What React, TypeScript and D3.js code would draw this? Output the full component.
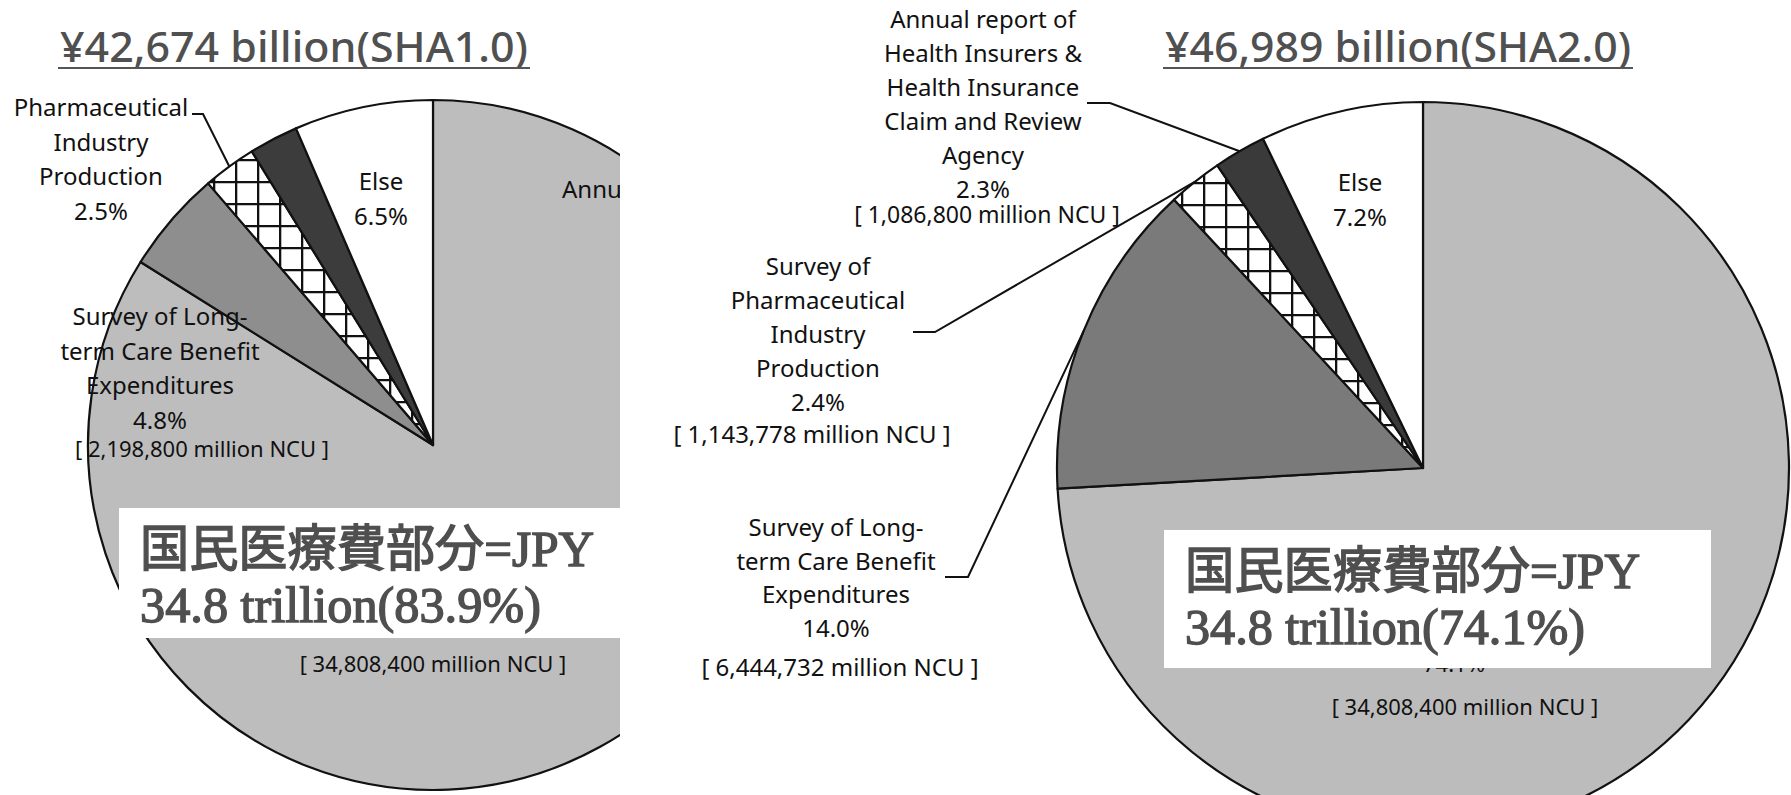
import * as d3 from 'd3';
import { useEffect, useRef } from 'react';

const WIDTH = 1791;
const HEIGHT = 795;

// slices clockwise from 12 o'clock
const sliceKeys = ['nmce', 'ltc', 'pharma', 'insurers', 'else'];
const sha1Shares = [83.9, 4.8, 2.5, 2.3, 6.5];
const sha2Shares = [74.1, 14.0, 2.4, 2.3, 7.2];

const titles = ['¥42,674 billion(SHA1.0)', '¥46,989 billion(SHA2.0)'];
const boxLines1 = ['国民医療費部分=JPY', '34.8 trillion(83.9%)'];
const boxLines2 = ['国民医療費部分=JPY', '34.8 trillion(74.1%)'];

const sha1Ncu = ['34,808,400', '2,198,800'];
const sha2Ncu = ['34,808,400', '6,444,732', '1,143,778', '1,086,800'];

const ltcLines = ['Survey of Long-', 'term Care Benefit', 'Expenditures'];
const pharmaLines1 = ['Pharmaceutical', 'Industry', 'Production'];
const pharmaLines2 = ['Survey of', 'Pharmaceutical', 'Industry', 'Production'];
const insurerLines = ['Annual report of', 'Health Insurers &', 'Health Insurance', 'Claim and Review', 'Agency'];
const nmceLine = 'Annual report of';

const labelFont = "'Noto Sans', 'DejaVu Sans', sans-serif";
const titleFont = "'Noto Sans', 'Noto Sans CJK JP', sans-serif";
const boxFont = "'Liberation Serif', 'Noto Sans CJK JP', serif";

type Sel = d3.Selection<SVGGElement, unknown, null, undefined>;

const fmtPct = (v: number) => `${v.toFixed(1)}%`;
const ncu = (s: string) => `[ ${s} million NCU ]`;

function lines(
  g: Sel,
  x: number,
  yCenter: number,
  step: number,
  texts: string[],
  size = 24,
  anchor = 'middle'
) {
  g.append('g')
    .selectAll('text')
    .data(texts)
    .join('text')
    .attr('x', x)
    .attr('y', (_, i) => yCenter + i * step + size * 0.34)
    .attr('text-anchor', anchor)
    .attr('font-family', labelFont)
    .attr('font-size', size)
    .attr('fill', '#111')
    .text((d) => d);
}

function title(g: Sel, cx: number, text: string, width: number) {
  g.append('text')
    .attr('x', cx - width / 2)
    .attr('y', 62)
    .attr('font-family', titleFont)
    .attr('font-size', 42)
    .attr('font-weight', 500)
    .attr('fill', '#505050')
    .attr('textLength', width)
    .attr('lengthAdjust', 'spacingAndGlyphs')
    .text(text);
  g.append('line')
    .attr('x1', cx - width / 2 - 2)
    .attr('x2', cx + width / 2 + 2)
    .attr('y1', 68)
    .attr('y2', 68)
    .attr('stroke', '#555')
    .attr('stroke-width', 2);
}

function box(g: Sel, x0: number, x1: number, y0: number, y1: number, texts: string[], widths: number[]) {
  g.append('rect')
    .attr('x', x0)
    .attr('y', y0)
    .attr('width', x1 - x0)
    .attr('height', y1 - y0)
    .attr('fill', '#fff');
  g.append('g')
    .selectAll('text')
    .data(texts)
    .join('text')
    .attr('x', x0 + 21)
    .attr('y', (_, i) => y0 + 58 + i * 56)
    .attr('font-family', boxFont)
    .attr('font-size', 50)
    .attr('fill', '#4f4f4f')
    .attr('stroke', '#4f4f4f')
    .attr('stroke-width', 1.4)
    .attr('textLength', (_, i) => widths[i])
    .attr('lengthAdjust', 'spacingAndGlyphs')
    .text((d) => d);
}

function drawPie(g: Sel, cx: number, cy: number, r: number, shares: number[], fills: string[]) {
  const pie = d3.pie<number>().sort(null).value((d) => d);
  const arcs = pie(shares);
  const arc = d3.arc<d3.PieArcDatum<number>>().innerRadius(0).outerRadius(r);
  const pg = g.append('g').attr('transform', `translate(${cx},${cy})`);
  pg.selectAll('path')
    .data(arcs)
    .join('path')
    .attr('d', arc)
    .attr('fill', (_, i) => fills[i])
    .attr('stroke', '#111')
    .attr('stroke-width', 2.2)
    .attr('stroke-linejoin', 'round');
  const edge = d3.arc<d3.PieArcDatum<number>>().innerRadius(r).outerRadius(r);
  // outer point of each slice at mid angle, in page coords
  return arcs.map((a) => {
    const [x, y] = edge.centroid(a);
    return [x + cx, y + cy] as [number, number];
  });
}

function leader(g: Sel, pts: [number, number][]) {
  g.append('path')
    .attr('d', d3.line()(pts))
    .attr('fill', 'none')
    .attr('stroke', '#111')
    .attr('stroke-width', 2);
}

const App = () => {
  const ref = useRef<SVGSVGElement | null>(null);

  useEffect(() => {
    if (!ref.current) return;
    const svg = d3.select(ref.current);
    svg.selectAll('*').remove();

    const defs = svg.append('defs');
    const hatch = defs
      .append('pattern')
      .attr('id', 'hatch')
      .attr('patternUnits', 'userSpaceOnUse')
      .attr('width', 22)
      .attr('height', 22);
    hatch.append('rect').attr('width', 22).attr('height', 22).attr('fill', '#fff');
    hatch.append('path').attr('d', 'M0,1H22M1,0V22').attr('stroke', '#111').attr('stroke-width', 2.6);

    defs
      .append('clipPath')
      .attr('id', 'leftClip')
      .append('rect')
      .attr('x', 0)
      .attr('y', 0)
      .attr('width', 620)
      .attr('height', HEIGHT);

    const idx = (k: string) => sliceKeys.indexOf(k);

    // ---- SHA 1.0 (left, cropped) ----
    const left = svg.append('g').attr('clip-path', 'url(#leftClip)') as unknown as Sel;
    title(left, 294, titles[0], 468);
    const lp = drawPie(left, 433, 445, 345, sha1Shares, ['#bdbdbd', '#8e8e8e', 'url(#hatch)', '#3c3c3c', '#fff']);
    left.append('text')
      .attr('x', 562)
      .attr('y', 198)
      .attr('font-family', labelFont)
      .attr('font-size', 24)
      .attr('fill', '#111')
      .text(nmceLine);
    lines(left, 101, 108, 34.5, [...pharmaLines1, fmtPct(sha1Shares[idx('pharma')])]);
    leader(left, [[192, 114], [203, 114], lp[idx('pharma')]]);
    lines(left, 381, 182, 35, ['Else', fmtPct(sha1Shares[idx('else')])]);
    lines(left, 160, 317, 34.5, [...ltcLines, fmtPct(sha1Shares[idx('ltc')])]);
    lines(left, 202, 450, 0, [ncu(sha1Ncu[1])], 22);
    box(left, 119, 640, 508, 638, boxLines1, [454, 401]);
    lines(left, 433, 665, 0, [ncu(sha1Ncu[0])], 22);

    // ---- SHA 2.0 (right) ----
    const right = svg.append('g') as unknown as Sel;
    title(right, 1398, titles[1], 466);
    const rp = drawPie(right, 1423, 468, 366, sha2Shares, ['#bcbcbc', '#7a7a7a', 'url(#hatch)', '#3a3a3a', '#fff']);
    lines(right, 983, 20, 34, [...insurerLines, fmtPct(sha2Shares[idx('insurers')])]);
    lines(right, 987, 215, 0, [ncu(sha2Ncu[3])], 23);
    leader(right, [[1087, 103], [1110, 103], rp[idx('insurers')]]);
    lines(right, 818, 267, 34, [...pharmaLines2, fmtPct(sha2Shares[idx('pharma')])]);
    lines(right, 812, 435, 0, [ncu(sha2Ncu[2])]);
    leader(right, [[913, 332], [935, 332], rp[idx('pharma')]]);
    lines(right, 836, 528, 33.5, [...ltcLines, fmtPct(sha2Shares[idx('ltc')])]);
    lines(right, 840, 668, 0, [ncu(sha2Ncu[1])]);
    leader(right, [[945, 577], [968, 577], rp[idx('ltc')]]);
    lines(right, 1360, 183, 35, ['Else', fmtPct(sha2Shares[idx('else')])]);
    lines(right, 1454, 665, 0, [fmtPct(sha2Shares[idx('nmce')])], 22);
    box(right, 1164, 1711, 530, 668, boxLines2, [455, 400]);
    lines(right, 1465, 708, 0, [ncu(sha2Ncu[0])], 22);
  }, []);

  return (
    <svg
      ref={ref}
      width={WIDTH}
      height={HEIGHT}
      style={{ position: 'absolute', left: 0, top: 0, background: '#fff' }}
    />
  );
};

export default App;
